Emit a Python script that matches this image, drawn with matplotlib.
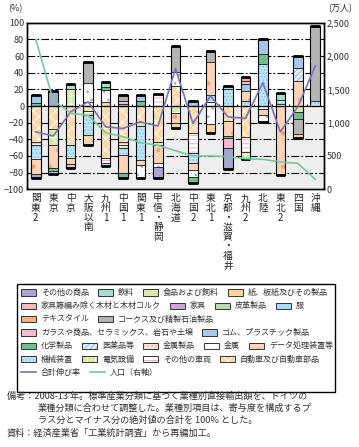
import numpy as np
import matplotlib
matplotlib.use("Agg")
import matplotlib.pyplot as plt
from matplotlib.patches import Rectangle
from matplotlib.lines import Line2D

plt.rcParams['font.family'] = ['Noto Sans CJK JP', 'DejaVu Sans']
plt.rcParams['hatch.linewidth'] = 0.6

W, H = 359, 447

regions = ['関東2', '東京', '中京', '大阪以南', '九州1', '中国1', '関東1', '甲信・静岡',
           '北海道', '中国2', '東北1', '京都・滋賀・福井', '九州2', '北陸', '東北2', '四国', '沖縄']

# contribution by industry (%), one value per region
other_goods    = [-5, 18, 0, 0, 0, 0, 0, -13, 0, 0, 0, -25, 0, 0, 0, 0, 0]
beverages      = [0, 0, 6, 0, 6, 0, 0, 0, 0, 0, 0, 0, 0, 0, 9, 0, 0]
food_feed      = [0] * 17
paper          = [0, 0, 0, 0, 0, 0, 0, 0, -6, 0, -10, 0, 0, 0, 0, -4, 0]
wood           = [0] * 17
furniture      = [0] * 17
leather        = [0] * 17
clothing       = [0, 0, 0, 0, 0, 0, 0, 0, 0, 0, 0, 3.4, 0, 0, 0, 0, 0]
textile        = [0, 0, 0, 0, 0, 0, 0, 0, 0, 0, 0, 0, 4.4, 0, 0, 0, 0]
coke           = [0, 0, 0, 25, 0, 6.3, 0, 0, 31, 0, 13, 0, 0, 0, 0, -18, 90]
glass          = [0, 0, -5, 0, 0, 3.5, 0, 0, 0, 0, 0, -13, 3, 0, 0, 0, 0]
rubber         = [8.8, -4, 0, 0, 0, 3, 6.8, 0, 0, 6.4, 0, 0, 9, 18, 0, 14, 0]
chemicals      = [4, -3, 0, 0, 4, -6, 6, 0, 0, -8, 0, -2, 0, 12, 0, -9, 0]
pharma         = [0, 0, 0, 0, 0, 0, 0, 0, 0, 0, 0, 0, 0, 0, 0, 16, 0]
metal_products = [0] * 17
metals         = [0, 0, 0, 23, 14, 0, -16, -4, 17, -8, -22, 0, 0, -8, 0, 0, 0]
data_proc      = [-18, -28, -8, -12, 5, -22, -6, -22, -13, -8, 40, -18, 12, -7, -83, 30, 0]
machinery      = [-17, 0, -15, -24, -4, -8, -41, 0, 0, -12, 8, 21, 6, 51, 4, 0, 6.4]
electrical     = [0, -19, 20, -5, 0, -4, -5, -4, -8, 0, 0, 0, -9, 0, 0, -7, 0]
other_vehicles = [-4, 0, 0, 5, -6, -4, 0, 14, 0, -24, 5, 0, -18, -4, 3, 0, 0]
autos          = [-43, -28, -47, -6, -62, -43, -19, -43, 24, -33, 0, -18, -37, 0, 0, 0, 0]

total_growth = [-31, -36, -7, 5, -25, -27, -19, -24, 45, -21, 12, -13, -15, 28, -31, -1, 48]
population = [2250, 1340, 1140, 1110, 850, 790, 700, 660, 580, 500, 500, 490, 460, 450, 410, 390, 150]

cat_names = ['その他の商品', '飲料', '食品および飼料', '紙、板紙及びその製品',
             '家具籐編み除く木材と木材コルク', '家具', '皮革製品', '服', 'テキスタイル',
             'コークス及び精製石油製品', 'ガラスや商品、セラミックス、岩石や土壌',
             'ゴム、プラスチック製品', '化学製品', '医薬品等', '金属製品', '金属',
             'データ処理装置等', '機械装置', '電気設備', 'その他の車両', '自動車及び自動車部品']
cat_values = [other_goods, beverages, food_feed, paper, wood, furniture, leather, clothing,
              textile, coke, glass, rubber, chemicals, pharma, metal_products, metals,
              data_proc, machinery, electrical, other_vehicles, autos]

# (face, hatch, hatch colour)
styles = [('#aaa6d4', None, None), ('#a6ddd0', None, None), ('#dce9a9', None, None),
          ('#fdd59b', None, None), ('#f7b9b5', None, None), ('#c8a8d2', None, None),
          ('#b5dbae', None, None), ('#a8dcf7', None, None), ('#f6ae85', None, None),
          ('#b4b4b4', None, None), ('#f6bad3', None, None), ('#a9c5e8', None, None),
          ('#6fc08e', None, None), ('#e4f0fb', '//////', '#7fb1e0'),
          ('#fbe2d6', '....', '#eeb49a'), ('#ffffff', '..', '#a8a8b8'),
          ('#fbd4b8', '.', '#ef9f78'), ('#bfe6f8', '.....', '#78c2e6'),
          ('#d6e9a6', '++', '#ffffff'), ('#ffffff', '----', '#f0a0c0'),
          ('#fcd8a6', 'xxx', '#ffffff')]

fig = plt.figure(figsize=(W / 100, H / 100), dpi=100)
ax = fig.add_axes([27 / W, 1 - 189.3 / H, 297 / W, 166.6 / H])
x = np.arange(len(regions))
bw = 0.55

ax.axhspan(-100, 0, color='#eeeeee', zorder=0)
for g in [80, 60, 40, 20, -20, -40, -60, -80]:
    ax.axhline(g, color='black', lw=0.8, ls=(0, (7, 2, 1.5, 2)), zorder=1)

pos_base = np.zeros(len(x))
neg_base = np.zeros(len(x))
for i in range(len(cat_names) - 1, -1, -1):
    v = np.array(cat_values[i], dtype=float)
    face, hatch, hc = styles[i]
    for sign in (1, -1):
        sel = v * sign > 0
        if not sel.any():
            continue
        base = pos_base if sign > 0 else neg_base
        ax.bar(x[sel], v[sel], bw, bottom=base[sel], color=face,
               edgecolor=hc if hatch else face, hatch=hatch, lw=0, zorder=2)
        ax.bar(x[sel], v[sel], bw, bottom=base[sel], fill=False,
               edgecolor='#222222', lw=0.5, zorder=3)
        base[sel] += v[sel]

# outer caps of each stack
for xi, top, bot in zip(x, pos_base, neg_base):
    if top > 0:
        ax.bar(xi, top, bw, fill=False, edgecolor='black', lw=0.8, zorder=3)
        ax.plot([xi - bw / 2, xi + bw / 2], [top, top], color='black', lw=2.0,
                solid_capstyle='butt', zorder=3)
    if bot < 0:
        ax.bar(xi, bot, bw, fill=False, edgecolor='black', lw=0.8, zorder=3)
        ax.plot([xi - bw / 2, xi + bw / 2], [bot, bot], color='black', lw=2.0,
                solid_capstyle='butt', zorder=3)

ax.axhline(0, color='black', lw=0.8, zorder=3)
ax.vlines(x[:-1] + 0.5, 0, 3, color='black', lw=0.8, zorder=3)

ax.plot(x, total_growth, color='#7b72b8', lw=1.2, zorder=5)

ax.set_xlim(-0.5, len(x) - 0.5)
ax.set_ylim(-100, 100)
ax.set_yticks(range(-100, 101, 20))
ax.set_xticks(x)
ax.set_xticklabels(['\n'.join(r) for r in regions], fontsize=7, linespacing=0.95,
                   va='top', color='#222222')
ax.tick_params(axis='x', length=0, pad=3)
ax.tick_params(axis='y', length=0, labelsize=6.5, colors='#333333', pad=2)
for s in ax.spines.values():
    s.set_linewidth(1.0)

ax2 = ax.twinx()
ax2.plot(x, population, color='#74c9a2', lw=1.2, zorder=5)
ax2.set_ylim(0, 2500)
ax2.set_yticks(range(0, 2501, 500))
ax2.set_yticklabels([f'{v:,}' for v in range(0, 2501, 500)])
ax2.tick_params(axis='y', length=0, labelsize=6.5, colors='#333333', pad=2)
for s in ax2.spines.values():
    s.set_linewidth(1.0)

fig.text(8 / W, 1 - 9 / H, '(%)', fontsize=6.5, color='#333333', va='center')
fig.text(328 / W, 1 - 9 / H, '(万人)', fontsize=6.5, color='#333333', va='center')

# legend, flowed like the original
fig.add_artist(Rectangle((17 / W, 1 - 392 / H), 318 / W, 108 / H, transform=fig.transFigure,
                         fill=False, edgecolor='black', lw=1.0))
rows = [4, 4, 2, 2, 5, 4]
renderer = fig.canvas.get_renderer()
idx = 0
row_y = 292.5
for n in rows:
    xp = 21.0
    for _ in range(n):
        face, hatch, hc = styles[idx]
        fig.add_artist(Rectangle((xp / W, 1 - (row_y + 3.2) / H), 15 / W, 6.4 / H,
                                 transform=fig.transFigure, facecolor=face,
                                 edgecolor=hc if hatch else face, hatch=hatch, lw=0))
        fig.add_artist(Rectangle((xp / W, 1 - (row_y + 3.2) / H), 15 / W, 6.4 / H,
                                 transform=fig.transFigure, fill=False,
                                 edgecolor='#333333', lw=0.7))
        t = fig.text((xp + 20) / W, 1 - row_y / H, cat_names[idx], fontsize=5.8,
                     color='#333333', va='center')
        wpx = t.get_window_extent(renderer).width
        xp = xp + 20 + wpx + 9
        idx += 1
    row_y += 13.3

xp = 21.0
for name, col in [('合計伸び率', '#7b72b8'), ('人口（右軸）', '#74c9a2')]:
    fig.add_artist(Line2D([xp / W, (xp + 15) / W], [1 - row_y / H] * 2,
                          transform=fig.transFigure, color=col, lw=1.2))
    t = fig.text((xp + 20) / W, 1 - row_y / H, name, fontsize=5.8, color='#333333', va='center')
    xp = xp + 20 + t.get_window_extent(renderer).width + 9

notes = ['備考：2008-13 年。標準産業分類に基づく業種別直接輸出額を、ドイツの',
         '業種分類に合わせて調整した。業種別項目は、寄与度を構成するプ',
         'ラス分とマイナス分の絶対値の合計を 100% とした。']
fs_note = 6.6
fig.text(7 / W, 1 - 396 / H, notes[0], fontsize=fs_note, color='#333333', va='center')
fig.text(38 / W, 1 - 408 / H, notes[1], fontsize=fs_note, color='#333333', va='center')
fig.text(38 / W, 1 - 420 / H, notes[2], fontsize=fs_note, color='#333333', va='center')
fig.text(7 / W, 1 - 433 / H, '資料：経済産業省「工業統計調査」から再編加工。', fontsize=fs_note,
         color='#333333', va='center')

fig.savefig('out.png', dpi=100, facecolor='white')
